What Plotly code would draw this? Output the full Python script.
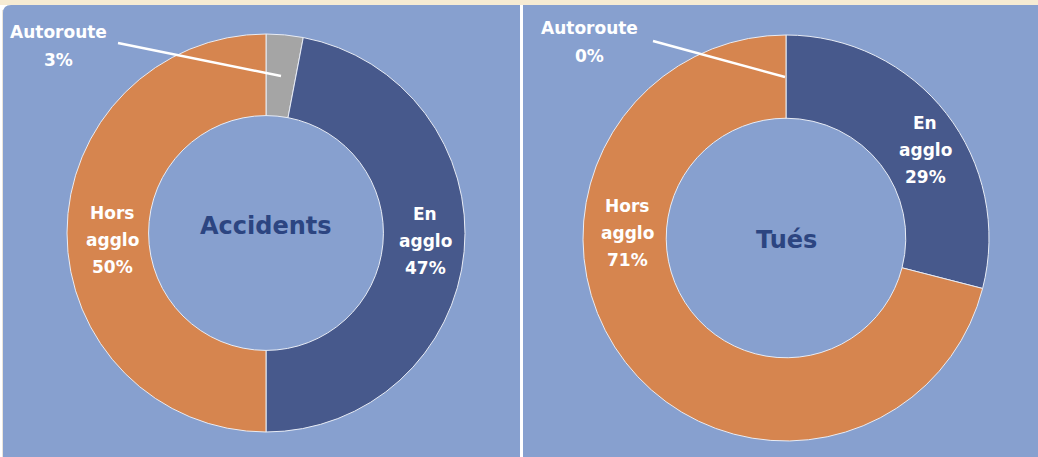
import plotly.graph_objects as go

W, H = 1038, 457

categories = ["Autoroute", "En agglo", "Hors agglo"]
accidents_pct = [3, 47, 50]
tues_pct = [0, 29, 71]
chart_titles = ["Accidents", "Tués"]

colors = ["#a5a5a5", "#47598c", "#d6854f"]
BG = "#87a0cf"
TITLE_C = "#2c4581"
FONT = "DejaVu Sans"


def px(x):
    return x / W


def py(y):
    return 1 - y / H


fig = go.Figure()

fig.add_trace(go.Pie(
    labels=categories, values=accidents_pct, hole=0.59, sort=False,
    direction="clockwise", rotation=0, textinfo="none", hoverinfo="label+percent",
    marker=dict(colors=colors, line=dict(color="#e8ecf5", width=1)),
    domain=dict(x=[px(67), px(465)], y=[py(432), py(34)]),
    showlegend=False,
))
fig.add_trace(go.Pie(
    labels=categories, values=tues_pct, hole=0.59, sort=False,
    direction="clockwise", rotation=0, textinfo="none", hoverinfo="label+percent",
    marker=dict(colors=colors, line=dict(color="#e8ecf5", width=1)),
    domain=dict(x=[px(583), px(989)], y=[py(441), py(35)]),
    showlegend=False,
))

shapes = []
# beige top strip
shapes.append(dict(type="rect", xref="paper", yref="paper", x0=0, x1=1, y0=py(5), y1=1,
                   fillcolor="#f6ebd3", line=dict(width=0), layer="below"))
# left panel with rounded top-left corner
r = 8
path = (f"M {px(3)},{py(457)} L {px(3)},{py(5 + r)} Q {px(3)},{py(5)} {px(3 + r)},{py(5)} "
        f"L {px(520)},{py(5)} L {px(520)},{py(457)} Z")
shapes.append(dict(type="path", xref="paper", yref="paper", path=path,
                   fillcolor=BG, line=dict(width=0), layer="below"))
shapes.append(dict(type="rect", xref="paper", yref="paper", x0=px(523), x1=1, y0=0, y1=py(5),
                   fillcolor=BG, line=dict(width=0), layer="below"))
shapes.append(dict(type="rect", xref="paper", yref="paper", x0=px(2), x1=px(3), y0=0, y1=py(10),
                   fillcolor="#e9e4dc", line=dict(width=0), layer="below"))
# leader lines
shapes.append(dict(type="line", xref="paper", yref="paper", x0=px(118), y0=py(43), x1=px(281), y1=py(76),
                   line=dict(color="white", width=2.5)))
shapes.append(dict(type="line", xref="paper", yref="paper", x0=px(653), y0=py(41), x1=px(785), y1=py(77),
                   line=dict(color="white", width=2.5)))

annotations = []


def add_lines(lines, cx, cy, size=17, color="white", spacing=27):
    n = len(lines)
    for i, t in enumerate(lines):
        yy = cy + (i - (n - 1) / 2) * spacing
        annotations.append(dict(text=f"<b>{t}</b>", x=px(cx), y=py(yy), xref="paper", yref="paper",
                                showarrow=False, xanchor="center", yanchor="middle",
                                font=dict(family=FONT, size=size, color=color)))


# Accidents labels
add_lines([categories[0], f"{accidents_pct[0]}%"], 58, 46, size=17, spacing=28)
add_lines(["En", "agglo", f"{accidents_pct[1]}%"], 425, 241)
add_lines(["Hors", "agglo", f"{accidents_pct[2]}%"], 112, 240)
# Tués labels
add_lines([categories[0], f"{tues_pct[0]}%"], 589, 42, size=17, spacing=28)
add_lines(["En", "agglo", f"{tues_pct[1]}%"], 925, 150)
add_lines(["Hors", "agglo", f"{tues_pct[2]}%"], 627, 233)
# Titles
add_lines([chart_titles[0]], 266, 226, size=24, color=TITLE_C)
add_lines([chart_titles[1]], 786, 240, size=24, color=TITLE_C)

fig.update_layout(
    width=W, height=H,
    margin=dict(l=0, r=0, t=0, b=0),
    paper_bgcolor="white",
    plot_bgcolor="white",
    shapes=shapes,
    annotations=annotations,
)

fig.write_html("out.html", config={"displayModeBar": False},
               post_script="document.body.style.margin='0px';document.body.style.padding='0px';")
